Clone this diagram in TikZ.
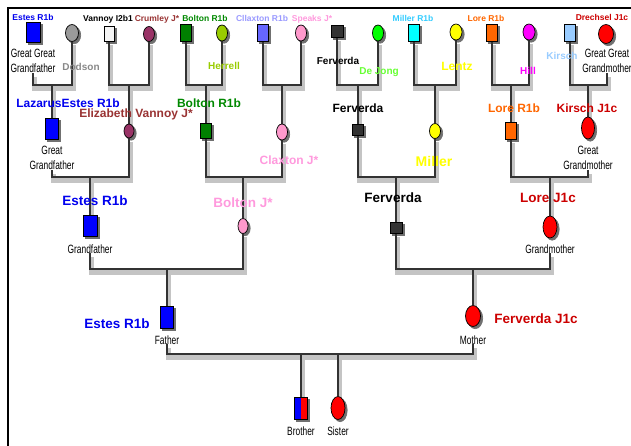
\documentclass[tikz,border=0pt]{standalone}
\usepackage{fontspec}
\setmainfont{Liberation Sans}
\newfontfamily\narrowfont[FakeStretch=0.7]{Liberation Sans}
\usetikzlibrary{shapes.geometric}
\pgfdeclarelayer{shlayer}
\pgfdeclarelayer{bg}
\pgfsetlayers{shlayer,bg,main}
\definecolor{cBlue}{HTML}{0000FF}
\definecolor{tBlue}{HTML}{0000EE}
\definecolor{cGray}{HTML}{9A9A9A}
\definecolor{tGray}{HTML}{888888}
\definecolor{cWhite}{HTML}{F4F4F4}
\definecolor{cPlum}{HTML}{993366}
\definecolor{tPlum}{HTML}{993333}
\definecolor{cGreen}{HTML}{008000}
\definecolor{tGreen}{HTML}{008800}
\definecolor{cOlive}{HTML}{99CC00}
\definecolor{cPeri}{HTML}{6666FF}
\definecolor{tPeri}{HTML}{9999FF}
\definecolor{cPink}{HTML}{FF99CC}
\definecolor{tPink}{HTML}{FF99DD}
\definecolor{cDark}{HTML}{333333}
\definecolor{cLime}{HTML}{00FF00}
\definecolor{tLime}{HTML}{66FF33}
\definecolor{cCyan}{HTML}{00FFFF}
\definecolor{tCyan}{HTML}{33CCFF}
\definecolor{cYellow}{HTML}{FFFF00}
\definecolor{cOrange}{HTML}{FF6600}
\definecolor{cMagenta}{HTML}{FF00FF}
\definecolor{cSky}{HTML}{99CCFF}
\definecolor{cRed}{HTML}{FF0000}
\definecolor{tRed}{HTML}{CC0000}
\definecolor{shNode}{HTML}{707070}
\definecolor{shLine}{HTML}{C4C4C4}
\definecolor{lineC}{HTML}{333333}
\tikzset{
  male/.style={rectangle, draw=black, line width=0.7pt, minimum width=11pt, minimum height=17pt, inner sep=0pt},
  female/.style={ellipse, draw=black, line width=0.7pt, minimum width=11pt, minimum height=16pt, inner sep=0pt},
  tA/.style={font=\bfseries\fontsize{8.5}{10}\selectfont, inner sep=0pt, anchor=base},
  tB/.style={font=\bfseries\fontsize{10}{12}\selectfont, inner sep=0pt, anchor=base},
  tC/.style={font=\bfseries\fontsize{12}{14}\selectfont, inner sep=0pt, anchor=base},
  tD/.style={font=\bfseries\fontsize{13.5}{16}\selectfont, inner sep=0pt, anchor=base},
  tN/.style={font=\narrowfont\fontsize{12}{14}\selectfont, inner sep=0pt, anchor=base},
  conn/.style={draw=lineC, line width=1.6pt},
  connsh/.style={draw=shLine, line width=5.5pt},
}
% #1 shape style, #2 fill, #3 name, #4 position, #5 size options
\newcommand\person[5]{%
  \node[#1, #5, fill=#2] (#3) at (#4) {};
  \begin{pgfonlayer}{shlayer}
    \node[#1, #5, fill=shNode, draw=shNode] at ([shift={(2.2,2.2)}]#3.center) {};
  \end{pgfonlayer}}
\newcommand\allconnectors[2]{%
  \draw[#1] ([#2]ggf2.south) |- ([#2]j4a) -| ([#2]a2.south);
  \draw[#1] ([#2]j4a) -- ([#2]b1.north);
  \draw[#1] ([#2]a3.south) |- ([#2]j4b) -| ([#2]a4.south);
  \draw[#1] ([#2]j4b) -- ([#2]b2.north);
  \draw[#1] ([#2]a5.south) |- ([#2]j4c) -| ([#2]a6.south);
  \draw[#1] ([#2]j4c) -- ([#2]b3.north);
  \draw[#1] ([#2]a7.south) |- ([#2]j4d) -| ([#2]a8.south);
  \draw[#1] ([#2]j4d) -- ([#2]b4.north);
  \draw[#1] ([#2]a9.south) |- ([#2]j4e) -| ([#2]a10.south);
  \draw[#1] ([#2]j4e) -- ([#2]b5.north);
  \draw[#1] ([#2]a11.south) |- ([#2]j4f) -| ([#2]a12.south);
  \draw[#1] ([#2]j4f) -- ([#2]b6.north);
  \draw[#1] ([#2]a13.south) |- ([#2]j4g) -| ([#2]a14.south);
  \draw[#1] ([#2]j4g) -- ([#2]b7.north);
  \draw[#1] ([#2]a15.south) |- ([#2]j4h) -| ([#2]ggm2.south);
  \draw[#1] ([#2]j4h) -- ([#2]b8.north);
  \draw[#1] ([#2]gf2.south) |- ([#2]j3a) -| ([#2]b2.south);
  \draw[#1] ([#2]j3a) -- ([#2]c1.north);
  \draw[#1] ([#2]b3.south) |- ([#2]j3b) -| ([#2]b4.south);
  \draw[#1] ([#2]j3b) -- ([#2]c2.north);
  \draw[#1] ([#2]b5.south) |- ([#2]j3c) -| ([#2]b6.south);
  \draw[#1] ([#2]j3c) -- ([#2]c3.north);
  \draw[#1] ([#2]b7.south) |- ([#2]j3d) -| ([#2]gm2.south);
  \draw[#1] ([#2]j3d) -- ([#2]c4.north);
  \draw[#1] ([#2]gfa.south) |- ([#2]j2a) -| ([#2]c2.south);
  \draw[#1] ([#2]j2a) -- ([#2]d1.north);
  \draw[#1] ([#2]c3.south) |- ([#2]j2b) -| ([#2]gma.south);
  \draw[#1] ([#2]j2b) -- ([#2]d2.north);
  \draw[#1] ([#2]fa.south) |- ([#2]j1) -| ([#2]mo.south);
  \draw[#1] ([#2]e1.north) -- ([#2]k1);
  \draw[#1] ([#2]e2.north) -- ([#2]k2);
}
\begin{document}
\begin{tikzpicture}[x=1pt,y=-1pt]
\useasboundingbox (0,0) rectangle (631,446);
\draw[line width=1.2pt] (8,446) -- (8,8) -- (631,8);

% ---------- generation 4 ----------
\person{male}{cBlue}{a1}{33,32}{minimum width=14pt, minimum height=20pt}
\person{female}{cGray}{a2}{72,33}{minimum width=13pt, minimum height=17pt}
\person{male}{cWhite}{a3}{109,34}{minimum width=10pt, minimum height=15pt}
\person{female}{cPlum}{a4}{149,34}{minimum height=15pt}
\person{male}{cGreen}{a5}{186,33}{}
\person{female}{cOlive}{a6}{222,33}{}
\person{male}{cPeri}{a7}{263,33}{}
\person{female}{cPink}{a8}{301,33}{}
\person{male}{cDark}{a9}{337,31}{minimum width=12pt, minimum height=12pt}
\person{female}{cLime}{a10}{378,33}{}
\person{male}{cCyan}{a11}{414,33}{}
\person{female}{cYellow}{a12}{456,32}{minimum width=12pt}
\person{male}{cOrange}{a13}{492,33}{}
\person{female}{cMagenta}{a14}{529,32}{minimum width=12pt}
\person{male}{cSky}{a15}{570,33}{}
\person{female}{cRed}{a16}{606,34}{minimum width=15pt, minimum height=19pt}

\node[tA, text=tBlue] (la1) at (33,21) {Estes R1b};
\node[tA] (la3) at (108,22) {Vannoy I2b1};
\node[tA, text=tPlum] (la4) at (157,22) {Crumley J*};
\node[tA, text=tGreen] (la5) at (205,22) {Bolton R1b};
\node[tA, text=tPeri] (la7) at (262,22) {Cllaxton R1b};
\node[tA, text=tPink] (la8) at (312,22) {Speaks J*};
\node[tA, text=tCyan] (la11) at (413,22) {Miller R1b};
\node[tA, text=cOrange] (la13) at (486,22) {Lore R1b};
\node[tA, text=tRed] (la16) at (602,21) {Drechsel J1c};

\node[tN] (ggf1) at (33,58) {Great Great};
\node[tN] (ggf2) at (33,73) {Grandfather};
\node[tB, text=tGray] (lb2) at (81,71) {Dodson};
\node[tB, text=cOlive] (lb6) at (224,70) {Herrell};
\node[tB] (lb9) at (338,65) {Ferverda};
\node[tB, text=tLime] (lb10) at (379,75) {De Jong};
\node[tC, text=cYellow] (lb12) at (457,71) {Lentz};
\node[tB, text=cMagenta] (lb14) at (528,75) {Hill};
\node[tB, text=cSky] (lb15) at (562,60) {Kirsch};
\node[tN] (ggm1) at (607,58) {Great Great};
\node[tN] (ggm2) at (607,73) {Grandmother};

% ---------- generation 3 ----------
\person{male}{cBlue}{b1}{52,129}{minimum width=13pt, minimum height=21pt}
\person{female}{cPlum}{b2}{129,131}{minimum width=10pt, minimum height=14pt}
\person{male}{cGreen}{b3}{206,131}{minimum height=15pt}
\person{female}{cPink}{b4}{282,132}{}
\person{male}{cDark}{b5}{358,130}{minimum width=11pt, minimum height=11pt}
\person{female}{cYellow}{b6}{435,131}{minimum height=15pt}
\person{male}{cOrange}{b7}{511,131}{}
\person{female}{cRed}{b8}{588,128}{minimum width=13pt, minimum height=22pt}

\node[tC, text=tBlue] (lc1) at (68,108) {LazarusEstes R1b};
\node[tC, text=tPlum] (lc2) at (136,118) {Elizabeth Vannoy J*};
\node[tC, text=tGreen] (lc3) at (209,108) {Bolton R1b};
\node[tC, text=tPink] (lc4) at (289,165) {Claxton J*};
\node[tC] (lc5) at (358,113) {Ferverda};
\node[font=\bfseries\fontsize{14}{16}\selectfont, inner sep=0pt, anchor=base, text=cYellow] (lc6) at (434,167) {Miller};
\node[tC, text=cOrange] (lc7) at (514,113) {Lore R1b};
\node[tC, text=tRed] (lc8) at (587,113) {Kirsch J1c};
\node[tN] (gf1) at (52,155) {Great};
\node[tN] (gf2) at (52,170) {Grandfather};
\node[tN] (gm1) at (588,155) {Great};
\node[tN] (gm2) at (588,170) {Grandmother};

% ---------- generation 2 ----------
\person{male}{cBlue}{c1}{90,226}{minimum width=14pt, minimum height=21pt}
\person{female}{cPink}{c2}{243,226}{minimum width=10pt, minimum height=15pt}
\person{male}{cDark}{c3}{396,228}{minimum width=12pt, minimum height=11pt}
\person{female}{cRed}{c4}{550,227}{minimum width=14pt, minimum height=22pt}

\node[tD, text=tBlue] (ld1) at (95,206) {Estes R1b};
\node[tD, text=tPink] (ld2) at (243,208) {Bolton J*};
\node[tD] (ld3) at (393,203) {Ferverda};
\node[tD, text=tRed] (ld4) at (548,203) {Lore J1c};
\node[tN] (gfa) at (90,253) {Grandfather};
\node[tN] (gma) at (550,253) {Grandmother};

% ---------- generation 1 ----------
\person{male}{cBlue}{d1}{167,317}{minimum width=13pt, minimum height=22pt}
\person{female}{cRed}{d2}{473,316}{minimum width=15pt, minimum height=21pt}
\node[tD, text=tBlue] (le1) at (117,328) {Estes R1b};
\node[tD, text=tRed] (le2) at (536,323) {Ferverda J1c};
\node[tN] (fa) at (167,344) {Father};
\node[tN] (mo) at (473,344) {Mother};

% ---------- children ----------
\node[male, fill=cRed, minimum width=13pt, minimum height=22pt,
  path picture={\fill[cBlue] (path picture bounding box.south west) rectangle (path picture bounding box.north);}] (e1) at (301,408) {};
\begin{pgfonlayer}{shlayer}
  \fill[shNode] ([shift={(2.2,2.2)}]e1.south west) rectangle ([shift={(2.2,2.2)}]e1.north east);
\end{pgfonlayer}
\person{female}{cRed}{e2}{338,408}{minimum width=14pt, minimum height=23pt}
\node[tN] (br) at (301,435) {Brother};
\node[tN] (si) at (338,435) {Sister};

% ---------- connectors ----------
\coordinate (j4a) at (52,85);
\coordinate (j4b) at (129,85);
\coordinate (j4c) at (206,85);
\coordinate (j4d) at (282,85);
\coordinate (j4e) at (358,85);
\coordinate (j4f) at (435,85);
\coordinate (j4g) at (511,85);
\coordinate (j4h) at (588,85);
\coordinate (j3a) at (90,177);
\coordinate (j3b) at (243,177);
\coordinate (j3c) at (396,177);
\coordinate (j3d) at (550,177);
\coordinate (j2a) at (167,269);
\coordinate (j2b) at (473,269);
\coordinate (j1) at (320,354);
\coordinate (k1) at (e1.north |- j1);
\coordinate (k2) at (e2.north |- j1);
\begin{pgfonlayer}{shlayer}
\allconnectors{connsh}{shift={(1.5,3.5)}}
\end{pgfonlayer}
\begin{pgfonlayer}{bg}
\allconnectors{conn}{shift={(0,0)}}
\end{pgfonlayer}
\end{tikzpicture}
\end{document}
